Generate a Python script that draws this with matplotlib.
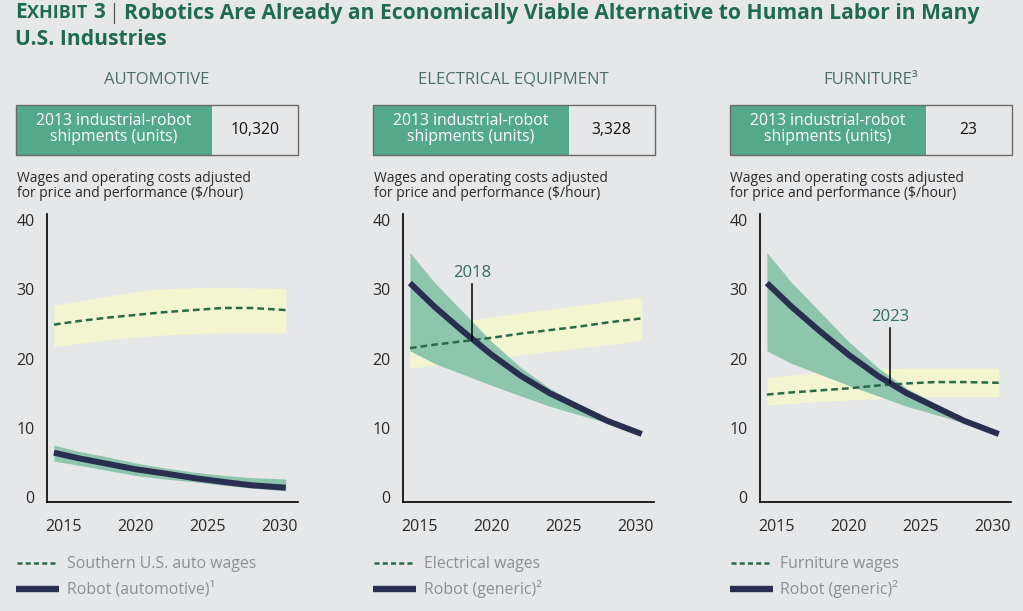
import matplotlib
matplotlib.use("Agg")
import matplotlib.pyplot as plt
from matplotlib.lines import Line2D
from matplotlib.patches import Rectangle

plt.rcParams['font.family'] = ['Open Sans', 'DejaVu Sans']

# ---- data ----
years = [2014.3, 2016, 2018, 2020, 2022, 2024, 2026, 2028, 2030.4]

auto_wage = [24.9, 25.4, 25.9, 26.3, 26.7, 27.0, 27.3, 27.3, 27.0]
auto_wage_hi = [27.7, 28.3, 29.0, 29.7, 30.1, 30.2, 30.3, 30.2, 30.1]
auto_wage_lo = [21.7, 22.2, 22.7, 23.1, 23.4, 23.6, 23.7, 23.7, 23.7]
robot_auto = [6.4, 5.6, 4.8, 4.0, 3.4, 2.75, 2.2, 1.7, 1.35]
robot_auto_hi = [7.5, 6.6, 5.8, 4.9, 4.2, 3.6, 3.15, 2.8, 2.6]
robot_auto_lo = [5.2, 4.6, 3.85, 3.1, 2.6, 2.2, 1.7, 1.3, 0.9]

elec_wage = [21.5, 22.0, 22.5, 23.0, 23.6, 24.1, 24.6, 25.2, 25.8]
elec_wage_hi = [24.3, 24.8, 25.4, 26.0, 26.6, 27.1, 27.7, 28.2, 28.9]
elec_wage_lo = [18.6, 19.0, 19.5, 20.0, 20.5, 21.0, 21.5, 22.0, 22.6]

furn_wage = [14.8, 15.1, 15.4, 15.7, 16.1, 16.4, 16.6, 16.6, 16.5]
furn_wage_hi = [17.2, 17.6, 18.0, 18.3, 18.5, 18.6, 18.6, 18.6, 18.6]
furn_wage_lo = [13.3, 13.5, 13.8, 14.0, 14.2, 14.4, 14.5, 14.5, 14.5]

robot_gen = [30.9, 27.5, 23.9, 20.5, 17.5, 15.0, 13.0, 11.0, 9.1]
robot_gen_hi = [35.3, 31.0, 26.7, 22.4, 18.7, 15.7, 13.5, 11.3, 9.1]
robot_gen_lo = [21.1, 19.3, 17.7, 16.1, 14.6, 13.1, 11.9, 10.7, 9.1]

industries = ['AUTOMOTIVE', 'ELECTRICAL EQUIPMENT', 'FURNITURE³']
shipments = ['10,320', '3,328', '23']
wage_labels = ['Southern U.S. auto wages', 'Electrical wages', 'Furniture wages']
robot_labels = ['Robot (automotive)¹', 'Robot (generic)²', 'Robot (generic)²']
crossings = [None, (2018.6, 22.7, '2018'), (2022.85, 16.4, '2023')]

x_ticks = [2015, 2020, 2025, 2030]
y_ticks = [0, 10, 20, 30, 40]

# ---- colours ----
bg = '#e6e7e9'
title_green = '#1f6b4f'
head_col = '#4b6f66'
box_green = '#55a98b'
yellow = '#f3f5d0'
mint = '#8ec5ad'
navy = '#2a2f52'
dash_green = '#2a6a48'
legend_grey = '#8a8f94'

W, H = 1023, 611
fig = plt.figure(figsize=(W / 100, H / 100), dpi=100, facecolor=bg)
r = fig.canvas.get_renderer()


def fx(x):
    return x / W


def fy(y):
    return 1 - y / H


def put(x, y, s, **kw):
    t = fig.text(fx(x), fy(y), s, **kw)
    return t.get_window_extent(renderer=r).x1


# title
x = put(15, 18.5, 'E', fontsize=15, fontweight='bold', color=title_green, va='baseline')
x = put(x + 0.5, 18.5, 'XHIBIT', fontsize=13, fontweight='bold', color=title_green, va='baseline')
x = put(x + 6, 18.5, '3', fontsize=15, fontweight='bold', color=title_green, va='baseline')
fig.add_artist(Line2D([fx(x + 9), fx(x + 9)], [fy(3), fy(23)], color='#555555', lw=0.9))
put(x + 19, 18.5, 'Robotics Are Already an Economically Viable Alternative to Human Labor in Many',
    fontsize=15.1, fontweight='bold', color=title_green, va='baseline')
put(15, 45, 'U.S. Industries', fontsize=15.1, fontweight='bold', color=title_green, va='baseline')

wages = [(auto_wage, auto_wage_lo, auto_wage_hi),
         (elec_wage, elec_wage_lo, elec_wage_hi),
         (furn_wage, furn_wage_lo, furn_wage_hi)]
robots = [(robot_auto, robot_auto_lo, robot_auto_hi),
          (robot_gen, robot_gen_lo, robot_gen_hi),
          (robot_gen, robot_gen_lo, robot_gen_hi)]

box_lefts = [16, 372.5, 729.5]
ax_lefts = [47, 403, 760]

for i in range(3):
    bl = box_lefts[i]
    # header
    fig.text(fx(bl + 141), fy(80), industries[i], fontsize=12, color=head_col,
             ha='center', va='center')
    # shipments box
    fig.add_artist(Rectangle((fx(bl), fy(154.5)), 196 / W, 50 / H, transform=fig.transFigure,
                             facecolor=box_green, edgecolor='none'))
    fig.add_artist(Rectangle((fx(bl), fy(154.5)), 282 / W, 50 / H, transform=fig.transFigure,
                             facecolor='none', edgecolor='#6a6a6a', lw=1.0))
    fig.text(fx(bl + 98), fy(129), '2013 industrial-robot\nshipments (units)', fontsize=11.3,
             color='white', ha='center', va='center', linespacing=1.02)
    fig.text(fx(bl + 239), fy(129.5), shipments[i], fontsize=11.3, color='#111111',
             ha='center', va='center')
    # axis caption
    fig.text(fx(bl + 1), fy(201), 'Wages and operating costs adjusted\nfor price and performance ($/hour)',
             fontsize=10, color='#2a2a2a', ha='left', va='bottom', linespacing=1.0)

    ax = fig.add_axes([fx(ax_lefts[i]), fy(502), 251 / W, 288 / H])
    ax.set_facecolor('none')
    w, wlo, whi = wages[i]
    rb, rlo, rhi = robots[i]
    ax.fill_between(years, wlo, whi, color=yellow, lw=0)
    ax.fill_between(years, rlo, rhi, color=mint, lw=0)
    ax.plot(years, w, color=dash_green, lw=1.8, dashes=(2.7, 1.6))
    ax.plot(years, rb, color=navy, lw=4.3, solid_capstyle='butt')
    if crossings[i]:
        cx, cy, lab = crossings[i]
        ax.plot([cx, cx], [cy, cy + 8.0], color='black', lw=1.1)
        ax.text(cx, cy + 9.6, lab, fontsize=12, color='#2f6f5f', ha='center', va='center')
    ax.set_xlim(2013.82, 2031.25)
    ax.set_ylim(-0.72, 40.87)
    ax.set_xticks(x_ticks)
    ax.set_yticks(y_ticks)
    ax.tick_params(length=0, labelsize=11.5, labelcolor='#2a2a2a')
    ax.tick_params(axis='x', pad=12)
    ax.tick_params(axis='y', pad=9)
    for s in ['top', 'right']:
        ax.spines[s].set_visible(False)
    for s in ['left', 'bottom']:
        ax.spines[s].set_color('black')
        ax.spines[s].set_linewidth(1.2)

    # legend
    fig.add_artist(Line2D([fx(bl + 1), fx(bl + 41)], [fy(562.5), fy(562.5)], color=dash_green,
                          lw=1.8, dashes=(2.0, 1.3)))
    fig.add_artist(Line2D([fx(bl), fx(bl + 43)], [fy(588.5), fy(588.5)], color=navy,
                          lw=4.6, solid_capstyle='butt'))
    fig.text(fx(bl + 51), fy(563.5), wage_labels[i], fontsize=11.4, color=legend_grey,
             ha='left', va='center')
    fig.text(fx(bl + 51), fy(589.5), robot_labels[i], fontsize=11.4, color=legend_grey,
             ha='left', va='center')

fig.savefig('out.png', dpi=100, facecolor=bg)
